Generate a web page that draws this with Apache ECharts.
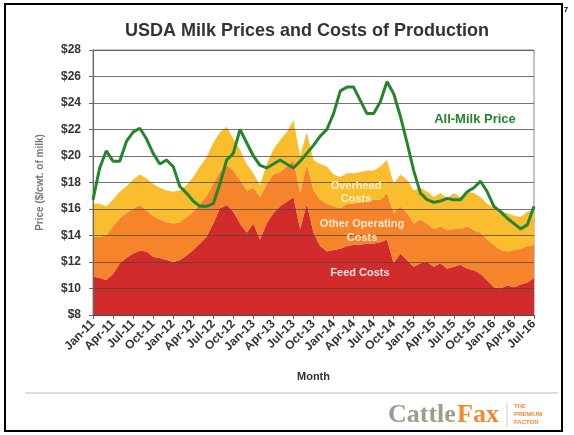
<!DOCTYPE html>
<html><head><meta charset="utf-8">
<script src="https://cdn.jsdelivr.net/npm/echarts@6/dist/echarts.min.js"></script>
<style>html,body{margin:0;padding:0;background:#fff}#c{width:574px;height:435px}</style>
</head><body><div id="c"></div>
<script>
const months = [
 'Jan-11','Feb-11','Mar-11','Apr-11','May-11','Jun-11','Jul-11','Aug-11','Sep-11','Oct-11','Nov-11','Dec-11',
 'Jan-12','Feb-12','Mar-12','Apr-12','May-12','Jun-12','Jul-12','Aug-12','Sep-12','Oct-12','Nov-12','Dec-12',
 'Jan-13','Feb-13','Mar-13','Apr-13','May-13','Jun-13','Jul-13','Aug-13','Sep-13','Oct-13','Nov-13','Dec-13',
 'Jan-14','Feb-14','Mar-14','Apr-14','May-14','Jun-14','Jul-14','Aug-14','Sep-14','Oct-14','Nov-14','Dec-14',
 'Jan-15','Feb-15','Mar-15','Apr-15','May-15','Jun-15','Jul-15','Aug-15','Sep-15','Oct-15','Nov-15','Dec-15',
 'Jan-16','Feb-16','Mar-16','Apr-16','May-16','Jun-16','Jul-16'
];
const feedCosts = [
 10.9,10.8,10.65,11.1,11.9,12.3,12.65,12.85,12.8,12.4,12.3,12.15,
 12.0,12.15,12.5,12.9,13.4,13.9,14.9,16.05,16.3,15.8,14.9,14.2,
 14.9,13.7,14.9,15.7,16.2,16.55,16.9,14.5,16.4,14.2,13.2,12.8,
 12.9,13.0,13.2,13.3,13.3,13.4,13.4,13.5,13.7,11.9,12.65,12.15,
 11.65,11.9,12.0,11.65,11.9,11.5,11.65,11.8,11.5,11.4,11.1,10.6,
 10.1,10.0,10.25,10.1,10.3,10.45,10.8
];
const otherOperatingCosts = [
 3.0,3.1,3.35,3.6,3.4,3.4,3.35,3.45,3.1,3.1,2.9,2.85,
 2.9,2.85,2.9,2.9,3.0,3.1,3.0,2.75,3.0,3.1,3.3,3.2,
 2.7,3.2,3.0,2.9,2.6,2.65,2.8,2.7,3.0,3.2,3.5,3.6,
 3.3,3.05,3.2,3.1,3.2,3.15,3.3,3.2,3.5,3.8,3.55,3.55,
 3.25,3.3,2.9,2.85,2.8,2.9,2.85,2.7,3.2,3.0,3.1,3.1,
 3.2,2.9,2.55,2.8,2.7,2.75,2.5
];
const overheadCosts = [
 2.5,2.5,2.2,2.0,2.0,2.0,2.2,2.3,2.4,2.4,2.4,2.4,
 2.4,2.4,2.4,2.6,2.8,2.9,3.1,3.0,2.9,2.4,2.3,2.0,
 1.1,0.9,1.5,1.9,2.4,2.6,3.0,2.8,2.4,2.3,2.7,2.8,
 2.4,2.35,2.3,2.3,2.3,2.35,2.2,2.5,2.5,2.2,2.4,2.5,
 2.5,2.4,2.4,2.4,2.5,2.4,2.7,2.4,2.6,2.8,2.7,2.7,
 2.75,2.9,2.9,2.6,2.4,2.6,2.6
];
const allMilkPrice = [
 16.7,19.1,20.4,19.6,19.6,21.1,21.8,22.1,21.3,20.2,19.4,19.7,
 19.2,17.7,17.2,16.6,16.2,16.2,16.4,17.9,19.7,20.2,22.0,21.0,
 20.0,19.3,19.1,19.4,19.7,19.4,19.1,19.6,20.2,20.8,21.5,22.0,
 23.2,24.9,25.2,25.2,24.2,23.2,23.2,24.1,25.6,24.7,23.0,21.0,
 18.9,17.2,16.7,16.5,16.6,16.8,16.7,16.7,17.3,17.6,18.1,17.3,
 16.2,15.8,15.3,14.9,14.5,14.8,16.2
];
const yMin = 8, yMax = 28, yStep = 2;

const FONT = '"Liberation Sans", Arial, sans-serif';
const chart = echarts.init(document.getElementById('c'), null, {renderer: 'canvas'});
const areaSeries = (name, data, color) => ({
  name, type: 'line', stack: 'cost', data, symbol: 'none', z: 2,
  lineStyle: {width: 0}, areaStyle: {color, opacity: 1}, itemStyle: {color}
});
chart.setOption({
  animation: false,
  backgroundColor: '#fff',
  grid: {left: 93, right: 40, top: 50, bottom: 120, show: true, borderColor: '#8a8a8a', borderWidth: 1},
  xAxis: {
    type: 'category', data: months, boundaryGap: false,
    name: 'Month', nameLocation: 'middle', nameGap: 56,
    nameTextStyle: {fontFamily: FONT, fontWeight: 'bold', fontSize: 11, color: '#333'},
    axisLine: {lineStyle: {color: '#666'}},
    axisTick: {interval: 2, length: 4, lineStyle: {color: '#666'}},
    axisLabel: {interval: 2, rotate: 45, margin: 7, fontFamily: FONT, fontWeight: 'bold', fontSize: 12, color: '#333'},
    splitLine: {show: false}
  },
  yAxis: {
    type: 'value', min: yMin, max: yMax, interval: yStep, z: 3,
    name: 'Price ($/cwt. of milk)', nameLocation: 'middle', nameGap: 48, nameRotate: 90,
    nameTextStyle: {fontFamily: FONT, fontWeight: 'bold', fontSize: 10, color: '#777'},
    axisLine: {show: true, lineStyle: {color: '#666'}},
    axisTick: {show: true, length: 4, lineStyle: {color: '#666'}},
    axisLabel: {formatter: v => '$' + v, margin: 12, fontFamily: FONT, fontWeight: 'bold', fontSize: 12, color: '#333'},
    splitLine: {lineStyle: {color: 'rgba(70,70,70,0.75)', width: 1}}
  },
  series: [
    areaSeries('Feed Costs', feedCosts, '#d22b2b'),
    areaSeries('Other Operating Costs', otherOperatingCosts, '#f5842a'),
    areaSeries('Overhead Costs', overheadCosts, '#f9bd2e'),
    {name: 'All-Milk Price', type: 'line', data: allMilkPrice, symbol: 'none', z: 5,
     lineStyle: {color: '#23862b', width: 3}, itemStyle: {color: '#23862b'}}
  ],
  graphic: [
    {type: 'rect', z: 100, shape: {x: 5, y: 4, width: 557, height: 427},
     style: {fill: 'none', stroke: '#000', lineWidth: 2}},
    {type: 'text', z: 100, style: {x: 566, y: 10, text: '7', align: 'center', verticalAlign: 'middle',
      font: 'bold 8px ' + FONT, fill: '#000'}},
    {type: 'text', z: 100, style: {x: 307, y: 31, text: 'USDA Milk Prices and Costs of Production', align: 'center',
      verticalAlign: 'middle', font: 'bold 18px ' + FONT, fill: '#333'}},
    {type: 'text', z: 100, style: {x: 475, y: 119, text: 'All-Milk Price', align: 'center', verticalAlign: 'middle',
      font: 'bold 13px ' + FONT, fill: '#23862b'}},
    {type: 'text', z: 100, style: {x: 356, y: 192, text: 'Overhead\nCosts', align: 'center', verticalAlign: 'middle',
      lineHeight: 13, font: 'bold 11px ' + FONT, fill: '#fdf0c8'}},
    {type: 'text', z: 100, style: {x: 362, y: 231, text: 'Other Operating\nCosts', align: 'center', verticalAlign: 'middle',
      lineHeight: 14, font: 'bold 11px ' + FONT, fill: '#fde8d0'}},
    {type: 'text', z: 100, style: {x: 360, y: 273, text: 'Feed Costs', align: 'center', verticalAlign: 'middle',
      font: 'bold 11px ' + FONT, fill: '#fbe4e0'}},
    {type: 'line', z: 100, shape: {x1: 25, y1: 393, x2: 558, y2: 393}, style: {stroke: '#bbb', lineWidth: 1}},
    {type: 'text', z: 100, style: {x: 388, y: 415, text: 'Cattle', align: 'left', verticalAlign: 'middle',
      font: 'bold 26px "Liberation Serif", serif', fill: '#9c9d8e'}},
    {type: 'text', z: 100, style: {x: 457, y: 415, text: 'Fax', align: 'left', verticalAlign: 'middle',
      font: 'bold 26px "Liberation Serif", serif', fill: '#f08a32'}},
    {type: 'line', z: 100, shape: {x1: 507, y1: 403, x2: 507, y2: 427}, style: {stroke: '#ccc', lineWidth: 1}},
    {type: 'text', z: 100, style: {x: 514, y: 414, text: 'THE\nPREMIUM\nFACTOR', align: 'left', verticalAlign: 'middle',
      lineHeight: 8, font: 'bold 6px ' + FONT, fill: '#f08a32'}}
  ]
});
</script></body></html>
